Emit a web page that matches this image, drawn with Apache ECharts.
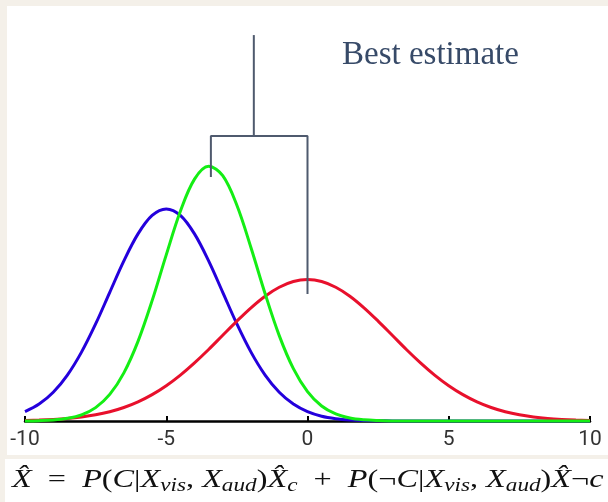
<!DOCTYPE html>
<html>
<head>
<meta charset="utf-8">
<script src="https://cdn.jsdelivr.net/npm/echarts@6/dist/echarts.min.js"></script>
<style>
html,body{margin:0;padding:0;background:#f4f0e9;}
#c{width:608px;height:502px;}
</style>
</head>
<body>
<div id="c"></div>
<script>
// x positions of the sampled points
const xs = [-10,-9.5,-9,-8.5,-8,-7.5,-7,-6.5,-6,-5.5,-5,-4.5,-4,-3.5,-3,-2.5,-2,-1.5,-1,-0.5,0,0.5,1,1.5,2,2.5,3,3.5,4,4.5,5,5.5,6,6.5,7,7.5,8,8.5,9,9.5,10];
// blue curve (visual estimate)
const blueVals = [0.0088,0.0159,0.0270,0.0432,0.0648,0.0913,0.1210,0.1506,0.1760,0.1934,0.1995,0.1934,0.1760,0.1506,0.1210,0.0913,0.0648,0.0432,0.0270,0.0159,0.0088,0.0045,0.0022,0.0010,0.0004,0.0002,0.0001,0,0,0,0,0,0,0,0,0,0,0,0,0,0];
// red curve
const redVals = [0.0005,0.0009,0.0015,0.0024,0.0038,0.0058,0.0087,0.0127,0.0180,0.0248,0.0332,0.0432,0.0547,0.0673,0.0807,0.0940,0.1065,0.1174,0.1258,0.1312,0.1330,0.1312,0.1258,0.1174,0.1065,0.0940,0.0807,0.0673,0.0547,0.0432,0.0332,0.0248,0.0180,0.0127,0.0087,0.0058,0.0038,0.0024,0.0015,0.0009,0.0005];
// green curve
const greenVals = [0.0001,0.0003,0.0009,0.0025,0.0058,0.0126,0.0250,0.0453,0.0749,0.1132,0.1563,0.1973,0.2275,0.2396,0.2307,0.2029,0.1630,0.1197,0.0803,0.0492,0.0276,0.0141,0.0066,0.0028,0.0011,0.0004,0.0001,0,0,0,0,0,0,0,0,0,0,0,0,0,0];
// "best estimate" stem and bracket
const stemX = [-1.9, -1.9];
const stemY = [0.363, 0.268];
const bracketX = [-3.42, -3.42, 0, 0];
const bracketY = [0.2295, 0.268, 0.268, 0.1195];
const xTicks = [-10, -5, 0, 5, 10];
const labelText = 'Best estimate';

const pair = (a, b) => a.map((v, i) => [v, b[i]]);
const chart = echarts.init(document.getElementById('c'), null, {renderer: 'canvas'});

const curve = (name, vals, color) => ({
  name, type: 'line', data: pair(xs, vals), smooth: 0.35, symbol: 'none',
  lineStyle: {color, width: 3}, silent: true, clip: false
});

const fS = 'Liberation Serif';
const formula =
  '{i|X\u0302}{r|\u2002=\u2002}{i|P}{r|(}{i|C}{r||}{i|X}{s|vis}{r|, }{i|X}{s|aud}{r|)}{i|X\u0302}{s|c}{r|\u2002+\u2002}' +
  '{i|P}{r|(¬}{i|C}{r||}{i|X}{s|vis}{r|, }{i|X}{s|aud}{r|)}{i|X\u0302}{r|¬}{i|c}';

chart.setOption({
  backgroundColor: '#f4f0e9',
  animation: false,
  grid: {left: 25, right: 18, top: 17, bottom: 81},
  xAxis: {
    type: 'value', min: -10, max: 10, interval: 5,
    axisLine: {lineStyle: {color: '#000', width: 2.5}},
    axisTick: {inside: true, length: 5, lineStyle: {color: '#000', width: 2}},
    splitLine: {show: false},
    axisLabel: {
      fontFamily: 'Roboto', fontSize: 21, color: '#333', margin: 8,
      formatter: v => xTicks.includes(v) ? String(v) : ''
    }
  },
  yAxis: {type: 'value', min: 0, max: 0.38, show: false, splitLine: {show: false}},
  graphic: [
    {type: 'rect', z: -10, shape: {x: 7, y: 6, width: 601, height: 449}, style: {fill: '#ffffff'}},
    {type: 'rect', z: -10, shape: {x: 5, y: 459, width: 603, height: 43}, style: {fill: '#ffffff'}},
    {type: 'text', z: 10, style: {x: 342, y: 55, text: labelText, fontFamily: fS, fontSize: 33,
      fill: '#374a68', verticalAlign: 'middle'}},
    {type: 'text', z: 10, x: 12, y: 480, scaleX: 1.29, scaleY: 1, style: {
      x: 0, y: 0, verticalAlign: 'middle', text: formula,
      rich: {
        i: {fontFamily: fS, fontStyle: 'italic', fontSize: 25, fill: '#111', lineHeight: 30, verticalAlign: 'middle'},
        r: {fontFamily: fS, fontSize: 25, fill: '#111', lineHeight: 30, verticalAlign: 'middle'},
        s: {fontFamily: fS, fontStyle: 'italic', fontSize: 18, fill: '#111', lineHeight: 18, verticalAlign: 'bottom'}
      }
    }}
  ],
  series: [
    curve('blue', blueVals, '#2400dc'),
    curve('red', redVals, '#e8102c'),
    curve('green', greenVals, '#14ee14'),
    {type: 'line', data: pair(stemX, stemY), symbol: 'none', silent: true,
      lineStyle: {color: '#4f5a6e', width: 2}},
    {type: 'line', data: pair(bracketX, bracketY), symbol: 'none', silent: true,
      lineStyle: {color: '#4f5a6e', width: 2}}
  ]
});
</script>
</body>
</html>
